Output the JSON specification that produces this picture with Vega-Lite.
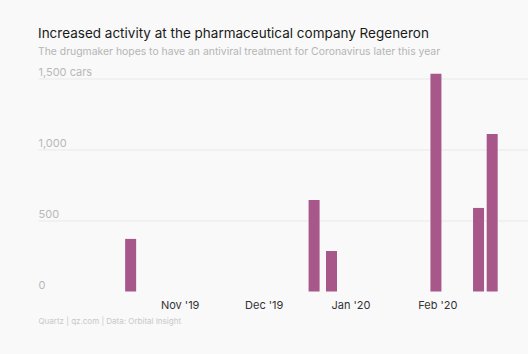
{
  "$schema": "https://vega.github.io/schema/vega-lite/v6.json",
  "width": 490,
  "height": 222,
  "autosize": "none",
  "padding": {"left": 38, "top": 69.5, "right": 0, "bottom": 62.5},
  "background": "#f9f9f9",
  "title": {
    "text": "Increased activity at the pharmaceutical company Regeneron",
    "subtitle": "The drugmaker hopes to have an antiviral treatment for Coronavirus later this year",
    "anchor": "start",
    "frame": "group",
    "font": "Inter",
    "fontSize": 13.5,
    "fontWeight": "normal",
    "color": "#1a1a1a",
    "subtitleFont": "Inter",
    "subtitleFontSize": 10.4,
    "subtitleColor": "#b5b5b5",
    "subtitlePadding": 6,
    "offset": 9
  },
  "config": {
    "view": {"stroke": null},
    "font": "Inter"
  },
  "data": {
    "values": [
      {"date": "2019-10-14T12:00:00Z", "cars": 370},
      {"date": "2019-12-19T00:00:00Z", "cars": 644},
      {"date": "2019-12-25T05:00:00Z", "cars": 285},
      {"date": "2020-01-31T12:00:00Z", "cars": 1532},
      {"date": "2020-02-15T17:00:00Z", "cars": 588},
      {"date": "2020-02-20T14:00:00Z", "cars": 1109}
    ]
  },
  "mark": {"type": "bar", "width": 11, "color": "#a8578a", "clip": false},
  "encoding": {
    "x": {
      "field": "date",
      "type": "temporal",
      "scale": {
        "type": "utc",
        "domain": [
          {"year": 2019, "month": 9, "date": 13, "hours": 5, "utc": true},
          {"year": 2020, "month": 3, "date": 2, "hours": 14, "utc": true}
        ]
      },
      "axis": {
        "values": [
          {"year": 2019, "month": 11, "date": 1, "utc": true},
          {"year": 2019, "month": 12, "date": 1, "utc": true},
          {"year": 2020, "month": 1, "date": 1, "utc": true},
          {"year": 2020, "month": 2, "date": 1, "utc": true}
        ],
        "labelExpr": "utcFormat(datum.value, \"%b '%y\")",
        "domain": false,
        "ticks": false,
        "grid": false,
        "labelPadding": 8,
        "labelFontSize": 11,
        "labelColor": "#333333",
        "title": "Quartz | qz.com | Data: Orbital Insight",
        "titleAnchor": "start",
        "titleAlign": "left",
        "titleFontSize": 8,
        "titleFontWeight": "normal",
        "titleColor": "#c8c8c8",
        "titlePadding": 7
      }
    },
    "y": {
      "field": "cars",
      "type": "quantitative",
      "scale": {"domain": [0, 1562], "nice": false},
      "axis": {
        "values": [0, 500, 1000, 1500],
        "labelExpr": "datum.value === 1500 ? datum.label + ' cars' : datum.label",
        "domain": false,
        "ticks": false,
        "tickSize": 0,
        "labelPadding": 0,
        "labelAlign": "left",
        "labelBaseline": "alphabetic",
        "labelOffset": -3,
        "labelFontSize": 11,
        "labelColor": "#b8b8b8",
        "gridColor": {"condition": {"test": "datum.value === 0", "value": "transparent"}, "value": "#e9e9e9"},
        "title": null
      }
    }
  }
}
